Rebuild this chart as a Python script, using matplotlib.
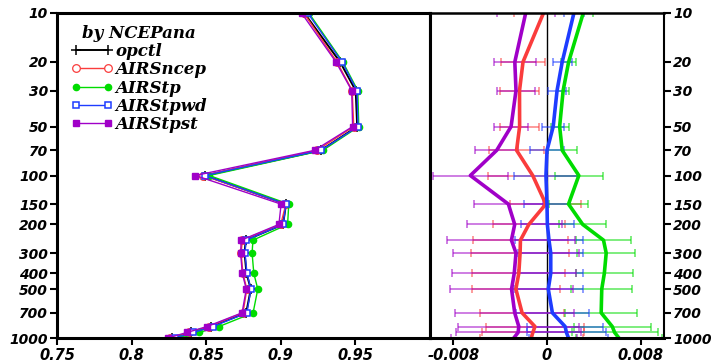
import numpy as np
import matplotlib
matplotlib.use("Agg")
import matplotlib.pyplot as plt
from matplotlib.font_manager import FontProperties

# pressure levels (hPa)
levels = [10, 20, 30, 50, 70, 100, 150, 200, 250, 300, 400, 500, 700, 850, 925, 1000]
ytick_vals = [10, 20, 30, 50, 70, 100, 150, 200, 300, 400, 500, 700, 1000]

# anomaly correlation of the control run
opctl = [0.9157, 0.9397, 0.9502, 0.9512, 0.9269, 0.8493, 0.9035, 0.9015,
         0.8765, 0.8757, 0.8770, 0.8799, 0.8768, 0.8530, 0.8395, 0.8272]

# experiment minus control (x 1e-3)
d_ncep = [-0.30, -2.05, -2.35, -2.34, -2.60, -1.22, -0.10, -1.55,
          -2.27, -2.30, -2.41, -2.66, -2.13, -1.03, -1.21, -1.35]
d_tp = [3.10, 1.85, 1.38, 1.08, 1.30, 2.72, 1.84, 3.05,
        4.83, 5.06, 4.90, 4.68, 4.63, 5.58, 5.78, 6.15]
d_tpwd = [2.30, 1.30, 0.86, 0.53, 0.00, -0.09, 0.00, 0.03,
          0.17, 0.32, 0.32, 0.11, 0.46, 1.55, 1.66, 1.84]
d_tpst = [-1.82, -2.75, -2.65, -3.07, -4.30, -6.55, -3.30, -2.76,
          -3.04, -2.65, -2.80, -3.03, -2.76, -2.41, -2.47, -2.84]

# confidence interval half widths (x 1e-3)
e_ncep = [2.50, 1.85, 1.65, 1.65, 2.33, 3.84, 3.04, 3.08,
          4.09, 4.20, 3.97, 3.78, 3.59, 4.20, 4.37, 4.40]
e_tp = [0.80, 0.62, 0.50, 0.76, 1.23, 2.05, 1.65, 2.00,
        2.39, 2.50, 2.44, 2.59, 3.07, 3.28, 3.68, 3.70]
e_tpwd = [0.86, 0.80, 0.75, 0.93, 1.44, 2.76, 1.98, 2.24,
          2.93, 2.78, 2.78, 2.93, 3.10, 3.22, 3.34, 3.40]
e_tpst = [2.47, 1.77, 1.62, 1.44, 1.85, 3.19, 2.96, 4.05,
          5.47, 5.35, 5.28, 5.22, 5.10, 5.17, 5.34, 5.40]

RED = '#fa3c3c'
GREEN = '#00dc00'
BLUE = '#1e3cff'
PURPLE = '#a000c8'

plt.rcParams['font.family'] = 'DejaVu Sans'
plt.rcParams['font.weight'] = 'bold'
plt.rcParams['font.style'] = 'italic'
plt.rcParams['font.size'] = 10.5

p = np.array(levels, dtype=float)
ctl = np.array(opctl)
exps = [
    ('AIRSncep', np.array(d_ncep) * 1e-3, np.array(e_ncep) * 1e-3, RED,
     dict(marker='o', mfc='white', mec=RED, ms=5.5, mew=0.9)),
    ('AIRStp', np.array(d_tp) * 1e-3, np.array(e_tp) * 1e-3, GREEN,
     dict(marker='o', mfc=GREEN, mec=GREEN, ms=4.5)),
    ('AIRStpwd', np.array(d_tpwd) * 1e-3, np.array(e_tpwd) * 1e-3, BLUE,
     dict(marker='s', mfc='white', mec=BLUE, ms=5, mew=1.1)),
    ('AIRStpst', np.array(d_tpst) * 1e-3, np.array(e_tpst) * 1e-3, PURPLE,
     dict(marker='s', mfc=PURPLE, mec=PURPLE, ms=4.5)),
]

legfont = FontProperties(family='DejaVu Serif', weight='bold', style='italic', size=12)

fig = plt.figure(figsize=(7.12, 3.62), dpi=100)
W, H = 712.0, 362.0
ax1 = fig.add_axes([57 / W, 24 / H, 373 / W, 325 / H])
ax2 = fig.add_axes([430 / W, 24 / H, 234 / W, 325 / H])

for ax in (ax1, ax2):
    ax.set_yscale('log')
    ax.set_ylim(1000, 10)
    ax.set_yticks(ytick_vals)
    ax.set_yticklabels([str(v) for v in ytick_vals])
    ax.yaxis.set_minor_locator(matplotlib.ticker.NullLocator())
    ax.tick_params(axis='both', direction='out', length=5, width=1.5, pad=2)
    ax.tick_params(axis='y', labelsize=10, pad=1.5)
    for s in ax.spines.values():
        s.set_linewidth(2.2)
        s.set_zorder(10)

# left panel: anomaly correlation profiles
ax1.plot(ctl, p, color='black', lw=1.4, marker='+', ms=7, mew=1.1, label='opctl')
for name, d, e, c, mk in exps:
    ax1.plot(ctl + d, p, color=c, lw=1.0, label=name, **mk)
ax1.set_xlim(0.75, 1.0)
ax1.set_xticks([0.75, 0.8, 0.85, 0.9, 0.95])
ax1.set_xticklabels(['0.75', '0.8', '0.85', '0.9', '0.95'])
leg = ax1.legend(loc='upper left', bbox_to_anchor=(0.02, 0.985), frameon=False,
                 numpoints=2, handlelength=2.5, handletextpad=0.15,
                 labelspacing=0.08, borderaxespad=0, prop=legfont,
                 title='by NCEPana', title_fontproperties=legfont)

# right panel: differences from control with confidence intervals
ax2.axvline(0, color='black', lw=1.0, zorder=1)
for name, d, e, c, mk in exps:
    ax2.errorbar(d, p, xerr=e, fmt='none', ecolor=c, alpha=0.55,
                 elinewidth=1.3, capsize=3, capthick=1.3, zorder=2)
for name, d, e, c, mk in exps:
    ax2.plot(d, p, color=c, lw=2.6, zorder=3)
ax2.set_xlim(-0.01, 0.01)
ax2.set_xticks([-0.008, 0, 0.008])
ax2.set_xticklabels(['-0.008', '0', '0.008'])
ax2.yaxis.tick_right()
ax2.spines['right'].set_linewidth(1.5)
ax2.spines['top'].set_linewidth(1.8)

fig.savefig('out.png', dpi=100)
